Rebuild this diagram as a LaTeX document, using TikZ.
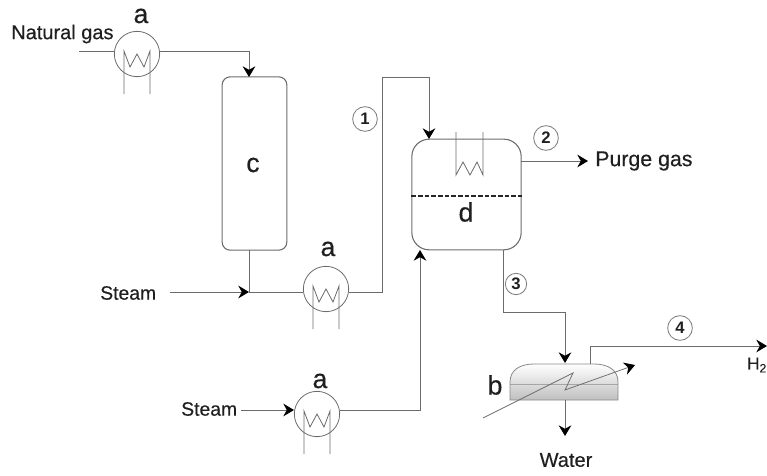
\documentclass[tikz,border=0pt]{standalone}
\usepackage{fontspec}
\setmainfont{Liberation Sans}
\newfontfamily\labfont[FakeBold=0.35]{Liberation Sans}
\usetikzlibrary{arrows.meta,calc}
\definecolor{ln}{gray}{0.42}
\definecolor{txt}{gray}{0.12}
\tikzset{
  every node/.style={text=txt},
  pipe/.style={draw=ln,line width=0.75pt},
  flow/.style={pipe,-{Stealth[length=8pt,width=9.5pt,inset=2.6pt,color=black]}},
  hx/.style={circle,draw=ln,line width=0.6pt,minimum size=34pt,inner sep=0pt},
  coil/.style={draw=ln,line width=0.6pt,line join=miter},
  vessel/.style={draw=ln,line width=0.8pt,inner sep=0pt},
  tag/.style={circle,draw=ln!85,line width=0.65pt,minimum size=18.5pt,inner sep=0pt,font=\fontsize{12.5}{12.5}\selectfont\bfseries},
  small/.style={inner sep=0pt,font=\labfont\fontsize{15}{15}\selectfont},
  big/.style={inner sep=0pt,font=\labfont\fontsize{20}{20}\selectfont},
}
\newcommand{\exch}[3]{%
  \node[hx] (#1) at (#2,#3) {};
  \draw[coil] ($(#2,#3)+(-13,40)$) -- ($(#2,#3)+(-13,-3)$) -- ($(#2,#3)+(-7,13)$) -- ($(#2,#3)+(0,0)$) -- ($(#2,#3)+(7,13)$) -- ($(#2,#3)+(13,-3)$) -- ($(#2,#3)+(13,40)$);
}
\begin{document}
\begin{tikzpicture}[x=0.75pt,y=-0.75pt]
\useasboundingbox (0,0) rectangle (767,475);
% exchangers
\exch{hxa}{137}{54}
\exch{hxb}{326}{289}
\exch{hxc}{317}{414}
% column c
\node[vessel,rounded corners=6pt,minimum width=48.5pt,minimum height=130pt] (c) at (254.5,163.5) {};
\node[big] (clabel) at (253,165) {c};
% vessel d
\node[vessel,rounded corners=13pt,minimum width=82pt,minimum height=83pt] (d) at (466.5,194.5) {};
\draw[black!85,line width=1pt,dash pattern=on 3.5pt off 1.5pt] (d.west) ++(0,1.5) -- (d.east |- {(0,196)});
\node[big] (dlabel) at (466,212) {d};
\draw[coil] (456,132) -- (456,175) -- (463,162) -- (470,175) -- (477,162) -- (483,175) -- (483,132);
% vessel b
\shade[top color=white,bottom color=black!25] (510,400) -- (510,382) .. controls (510,370) and (520,364) .. (534,364) -- (594,364) .. controls (608,364) and (618,370) .. (618,382) -- (618,400) -- cycle;
\draw[ln!60,line width=0.5pt] (510,384) -- (618,384);
\draw[ln!80,line width=0.6pt] (510,400) -- (510,382) .. controls (510,370) and (520,364) .. (534,364) -- (594,364) .. controls (608,364) and (618,370) .. (618,382) -- (618,400) -- cycle;
\node[minimum width=81pt,minimum height=27pt,inner sep=0pt] (b) at (564,382) {};
\node[big] (blabel) at (495,385) {b};
% labels
\node[small,anchor=west] (ng) at (11,34) {Natural gas};
\node[big] (la) at (141,16) {a};
\node[big] (lb) at (328,249) {a};
\node[big] (lc) at (320,381) {a};
\node[small,anchor=west,font=\labfont\fontsize{14.5}{15}\selectfont] (st1) at (100,293) {Steam};
\node[small,anchor=west,font=\labfont\fontsize{14.5}{15}\selectfont] (st2) at (181,409) {Steam};
\node[small,anchor=west,inner sep=0pt,font=\labfont\fontsize{16}{16}\selectfont] (purge) at (595,161) {Purge gas};
\node[small] (water) at (566,460) {Water};
\node[inner sep=0pt,font=\labfont\fontsize{13}{13}\selectfont] (h2) at (757,365) {H\textsubscript{2}};
\node[tag] (t1) at (365,119) {1};
\node[tag] (t2) at (546,138) {2};
\node[tag,minimum size=16pt] (t3) at (516,284) {3};
\node[tag] (t4) at (680,328) {4};
% free ends
\coordinate (ngin) at (79,51);
\coordinate (cin) at (249,77);
\coordinate (cout) at (249,250);
\coordinate (mix) at (249,292);
\coordinate (st1e) at (170,292);
\coordinate (riser) at (382,77);
\coordinate (din) at (429,139);
\coordinate (dout) at (503,250);
\coordinate (ben) at (565,363);
\coordinate (bout) at (590,364);
\coordinate (hend) at (767,346);
\coordinate (wend) at (565,436);
\coordinate (st2e) at (241,410);
\coordinate (hxcin) at (294,410);
\coordinate (din2) at (420,250);
\coordinate (pout) at (521,161);
\coordinate (pend) at (588,161);
% connectors
\draw[pipe] (ngin) -- (114,51);
\draw[flow] (160,51) -| (cin);
\draw[pipe] (cout) -- (mix);
\draw[flow] (st1e) -- (mix);
\draw[pipe] (mix) -- (303,292);
\draw[flow] (349,292) -| (riser) -- (429,77) -- (din);
\draw[flow] (st2e) -- (hxcin);
\draw[flow] (340,410) -| (din2);
\draw[flow] (pout) -- (pend);
\draw[flow] (dout) -- (503,312) -| (ben);
\draw[flow] (bout) -- (590,346) -- (hend);
\draw[flow] (565,400) -- (wend);
\draw[-{Stealth[length=8pt,width=9.5pt,inset=2.6pt,color=black]},ln,line width=0.55pt] (483,418) -- (573,373) -- (565,390) -- (635,365);
\end{tikzpicture}
\end{document}
